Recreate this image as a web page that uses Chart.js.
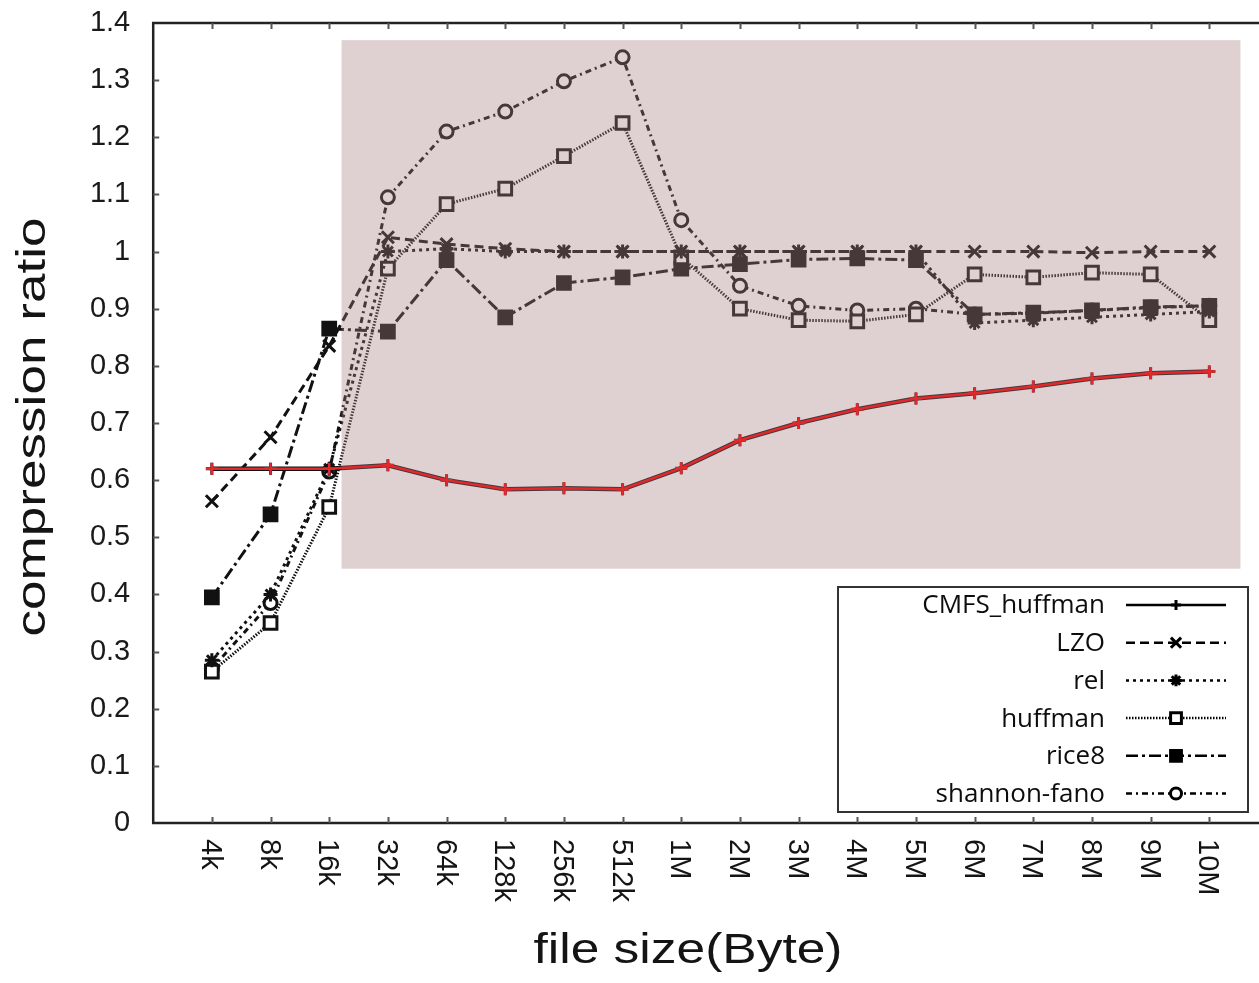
<!DOCTYPE html>
<html lang="en">
<head>
    <meta charset="UTF-8">
    <title>compression ratio vs file size</title>
    <script src="https://cdn.jsdelivr.net/npm/chart.js"></script>
    <style>
        html, body {
            margin: 0;
            padding: 0;
            background: #fff;
            overflow: hidden;
        }
        .wrap {
            width: 1280px;
            height: 983px;
            position: relative;
        }
    </style>
</head>
<body>

<div class="wrap">
    <canvas id="ratio-chart"></canvas>
</div>

<script>
    // categories (file sizes) and series values
    const sizes = ['4k', '8k', '16k', '32k', '64k', '128k', '256k', '512k', '1M',
                   '2M', '3M', '4M', '5M', '6M', '7M', '8M', '9M', '10M'];

    const cmfsHuffman = [0.62, 0.62, 0.62, 0.626, 0.60, 0.584, 0.586, 0.584, 0.621,
                         0.67, 0.70, 0.724, 0.743, 0.752, 0.764, 0.778, 0.787, 0.79];
    const lzo = [0.563, 0.675, 0.835, 1.025, 1.013, 1.005, 1.0, 1.0, 1.0,
                 1.0, 1.0, 1.0, 1.0, 1.0, 1.0, 0.998, 1.0, 1.0];
    const rel = [0.285, 0.40, 0.62, 1.0, 1.005, 1.0, 1.0, 1.0, 1.0,
                 1.0, 1.0, 1.0, 1.0, 0.875, 0.88, 0.885, 0.89, 0.895];
    const huffman = [0.265, 0.35, 0.553, 0.97, 1.083, 1.11, 1.167, 1.225, 0.99,
                     0.90, 0.88, 0.878, 0.89, 0.96, 0.955, 0.963, 0.96, 0.88];
    const rice8 = [0.395, 0.54, 0.865, 0.86, 0.985, 0.885, 0.945, 0.955, 0.97,
                   0.978, 0.986, 0.988, 0.985, 0.89, 0.893, 0.897, 0.903, 0.905];
    const shannonFano = [0.27, 0.385, 0.615, 1.095, 1.21, 1.245, 1.298, 1.34, 1.055,
                         0.94, 0.905, 0.897, 0.90, 0.89, 0.892, 0.897, 0.902, 0.905];

    const yTickStep = 0.1;
    const yMin = 0;
    const yMax = 1.4;

    // highlighted region (data units)
    const shadeX = [2.21, 17.53];
    const shadeY = [0.445, 1.37];

    const INK = '#111111';
    const RED = '#e3282d';

    function pts(values) {
        return values.map((v, i) => ({x: i, y: v}));
    }

    function serie(label, values, dash, style, radius, fill) {
        return {
            label: label,
            data: pts(values),
            borderColor: INK,
            borderWidth: 3,
            borderDash: dash,
            pointStyle: style,
            pointRadius: radius,
            pointBorderWidth: 3,
            pointBorderColor: INK,
            pointBackgroundColor: fill,
            tension: 0
        };
    }

    const datasets = [
        // red overlay of CMFS_huffman, drawn on top of everything
        {
            label: 'overlay',
            data: pts(cmfsHuffman),
            borderColor: RED,
            borderWidth: 2.5,
            pointStyle: 'cross',
            pointRadius: 6,
            pointBorderWidth: 2.5,
            pointBorderColor: RED,
            pointBackgroundColor: RED,
            tension: 0
        },
        serie('CMFS_huffman', cmfsHuffman, [], 'cross', 6, INK),
        serie('LZO', lzo, [9, 5], 'crossRot', 8.5, INK),
        serie('rel', rel, [3, 4], 'star', 7, INK),
        serie('huffman', huffman, [1.5, 1.5], 'rect', 9, '#ffffff'),
        serie('rice8', rice8, [12, 4, 3, 4], 'rect', 9, INK),
        serie('shannon-fano', shannonFano, [6, 4, 2, 4], 'circle', 6.5, '#ffffff')
    ];
    datasets[1].borderWidth = 4.5;

    const shadePlugin = {
        id: 'shade',
        afterDatasetDraw(chart, args) {
            if (args.index !== 1) return;
            const x = chart.scales.x, y = chart.scales.y;
            const ctx = chart.ctx;
            const l = x.getPixelForValue(shadeX[0]), r = x.getPixelForValue(shadeX[1]);
            const t = y.getPixelForValue(shadeY[1]), b = y.getPixelForValue(shadeY[0]);
            ctx.save();
            ctx.fillStyle = 'rgba(166, 127, 127, 0.36)';
            ctx.fillRect(l, t, r - l, b - t);
            ctx.restore();
        }
    };

    function drawMarker(ctx, ds, x, y) {
        ctx.save();
        ctx.setLineDash([]);
        ctx.lineWidth = 3;
        ctx.strokeStyle = '#000';
        ctx.fillStyle = ds.pointBackgroundColor === INK ? '#000' : ds.pointBackgroundColor;
        const opts = {pointStyle: ds.pointStyle, radius: ds.pointRadius * 0.85, rotation: 0, borderWidth: 3};
        if (Chart.helpers && Chart.helpers.drawPoint) {
            Chart.helpers.drawPoint(ctx, opts, x, y);
        } else {
            ctx.beginPath();
            ctx.arc(x, y, ds.pointRadius, 0, Math.PI * 2);
            ctx.fill();
            ctx.stroke();
        }
        ctx.restore();
    }

    const framePlugin = {
        id: 'frame',
        afterDraw(chart) {
            const ctx = chart.ctx;
            const area = chart.chartArea;
            const xs = chart.scales.x, ys = chart.scales.y;

            ctx.save();
            // frame (left, bottom, top)
            ctx.strokeStyle = '#222';
            ctx.lineWidth = 2.5;
            ctx.beginPath();
            ctx.moveTo(area.right, area.top);
            ctx.lineTo(area.left, area.top);
            ctx.lineTo(area.left, area.bottom);
            ctx.lineTo(area.right, area.bottom);
            ctx.stroke();

            // inward ticks
            ctx.strokeStyle = '#555';
            ctx.lineWidth = 2;
            ctx.beginPath();
            for (let v = yMin + yTickStep; v < yMax - 1e-9; v += yTickStep) {
                const py = Math.round(ys.getPixelForValue(v)) + 0.5;
                ctx.moveTo(area.left, py);
                ctx.lineTo(area.left + 6, py);
            }
            sizes.forEach((s, i) => {
                const px = Math.round(xs.getPixelForValue(i)) + 0.5;
                ctx.moveTo(px, area.bottom);
                ctx.lineTo(px, area.bottom - 6);
                ctx.moveTo(px, area.top);
                ctx.lineTo(px, area.top + 6);
            });
            ctx.stroke();

            // x tick labels, rotated clockwise
            ctx.fillStyle = '#141414';
            ctx.font = '29px "Liberation Sans", Arial, sans-serif';
            ctx.textAlign = 'left';
            ctx.textBaseline = 'middle';
            sizes.forEach((s, i) => {
                const px = xs.getPixelForValue(i);
                ctx.save();
                ctx.translate(px - 2, area.bottom + 16);
                ctx.rotate(Math.PI / 2);
                ctx.fillText(s, 0, 0);
                ctx.restore();
            });

            // axis titles
            ctx.textAlign = 'center';
            ctx.textBaseline = 'alphabetic';
            ctx.font = '43px "Liberation Sans", Arial, sans-serif';
            let txt = 'file size(Byte)';
            let w = ctx.measureText(txt).width;
            ctx.save();
            ctx.translate(688, 963);
            ctx.scale(309 / w, 1);
            ctx.fillText(txt, 0, 0);
            ctx.restore();

            ctx.font = '41px "Liberation Sans", Arial, sans-serif';
            txt = 'compression ratio';
            w = ctx.measureText(txt).width;
            ctx.save();
            ctx.translate(45, 427);
            ctx.rotate(-Math.PI / 2);
            ctx.scale(419 / w, 1);
            ctx.fillText(txt, 0, 0);
            ctx.restore();

            // legend box
            const box = {l: 838, t: 587, r: 1248, b: 812};
            ctx.fillStyle = '#fff';
            ctx.fillRect(box.l, box.t, box.r - box.l, box.b - box.t);
            ctx.strokeStyle = '#333';
            ctx.lineWidth = 2;
            ctx.strokeRect(box.l, box.t, box.r - box.l, box.b - box.t);

            ctx.font = '26px "Open Sans", sans-serif';
            ctx.textAlign = 'right';
            ctx.textBaseline = 'middle';
            const rowH = 37.7;
            chart.data.datasets.slice(1).forEach((ds, k) => {
                const cy = 605 + k * rowH;
                ctx.fillStyle = '#0d0d0d';
                ctx.fillText(ds.label, 1105, cy + 1);
                ctx.save();
                ctx.strokeStyle = '#000';
                ctx.lineWidth = 2.5;
                ctx.setLineDash(ds.borderDash);
                ctx.beginPath();
                ctx.moveTo(1126, cy);
                ctx.lineTo(1226, cy);
                ctx.stroke();
                ctx.restore();
                drawMarker(ctx, ds, 1176, cy);
            });
            ctx.restore();
        }
    };

    new Chart(document.getElementById('ratio-chart'), {
        type: 'line',
        data: {datasets: datasets},
        options: {
            responsive: true,
            maintainAspectRatio: false,
            animation: false,
            layout: {padding: {top: 23, right: 9.6, left: 0, bottom: 0}},
            plugins: {
                legend: {display: false},
                tooltip: {enabled: false}
            },
            scales: {
                x: {
                    type: 'linear',
                    min: -1,
                    max: 18,
                    grid: {display: false},
                    border: {display: false},
                    ticks: {display: false},
                    afterFit(scale) {
                        scale.height = 160;
                        scale.paddingLeft = 0;
                        scale.paddingRight = 0;
                    }
                },
                y: {
                    min: yMin,
                    max: yMax,
                    grid: {display: false},
                    border: {display: false},
                    ticks: {
                        stepSize: yTickStep,
                        padding: 15,
                        color: '#1a1a1a',
                        font: {family: '"Liberation Sans", Arial, sans-serif', size: 29},
                        callback: (v) => String(Number(v.toFixed(1)))
                    },
                    afterFit(scale) {
                        scale.width = 153.2;
                        scale.paddingTop = 0;
                        scale.paddingBottom = 0;
                    }
                }
            }
        },
        plugins: [shadePlugin, framePlugin]
    });
</script>

</body>
</html>
